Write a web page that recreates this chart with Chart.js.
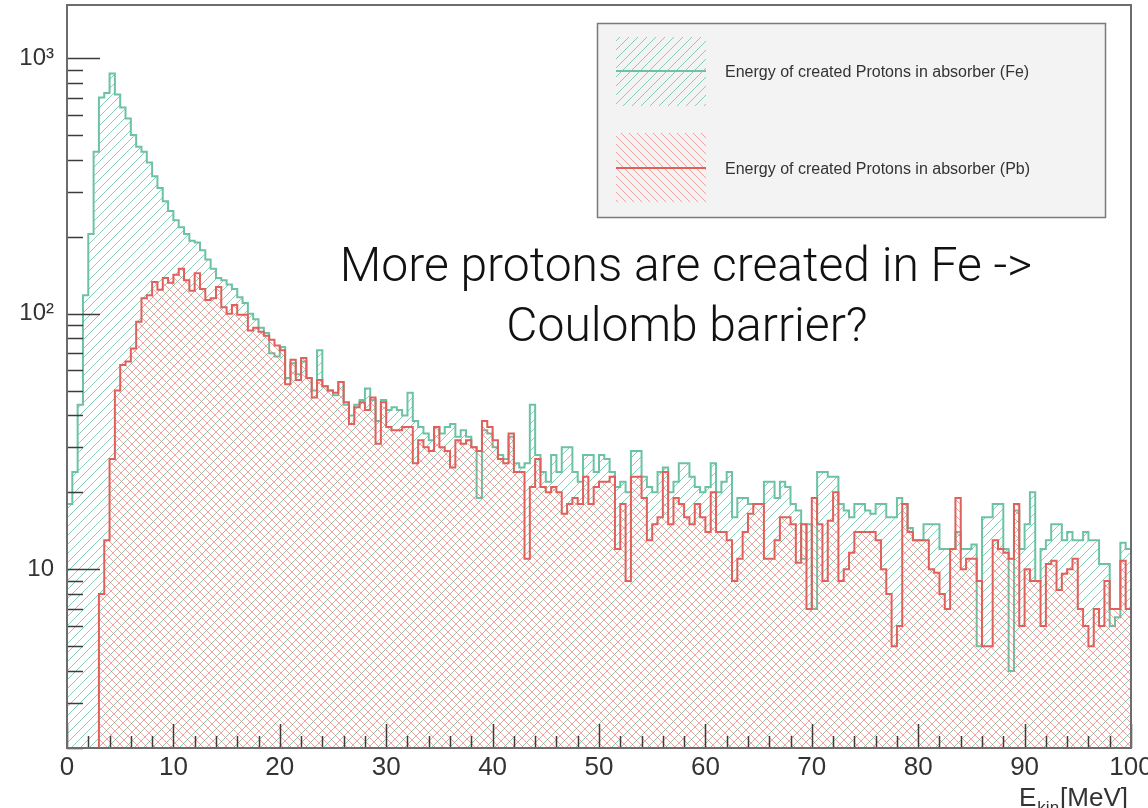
<!DOCTYPE html>
<html>
<head>
<meta charset="utf-8">
<title>Energy of created Protons</title>
<script src="https://cdn.jsdelivr.net/npm/chart.js@4.4.1/dist/chart.umd.min.js"></script>
<style>
  html, body { margin: 0; padding: 0; background: #fff; }
  #graphique { display: block; }
</style>
</head>
<body>
<canvas id="graphique" width="1148" height="808"></canvas>
<script>
// Histogramme : énergie des protons créés dans l'absorbeur, bins de 0.5 MeV
const energyRange = [0, 100];
const binWidth = 0.5;

// Comptages par bin - absorbeur Fer (Fe)
const countsFe = [
  18, 24, 44, 118, 205, 430, 700, 730, 870, 720,
  640, 580, 500, 450, 430, 390, 345, 310, 275, 252,
  232, 218, 205, 193, 190, 177, 163, 150, 138, 135,
  130, 125, 116, 110, 100, 95, 88, 84, 70, 68,
  74, 56, 64, 58, 65, 56, 50, 72, 52, 50,
  48, 54, 44, 40, 44, 46, 51, 46, 38, 46,
  42, 43, 42, 40, 49, 38, 36, 34, 32, 36,
  34, 36, 37, 33, 35, 33, 30, 19, 35, 34,
  30, 28, 27, 33, 26, 25, 26, 44, 28, 24,
  22, 28, 24, 30, 30, 24, 22, 28, 28, 24,
  28, 27, 24, 21, 22, 20, 29, 29, 23, 21,
  20, 24, 25, 20, 22, 26, 26, 23, 21, 20,
  21, 26, 20, 22, 24, 16, 19, 19, 18, 18,
  18, 22, 22, 19, 22, 21, 18, 17, 11, 15,
  7, 24, 24, 23, 23, 18, 17, 16, 18, 18,
  17, 16.5, 18, 18, 16, 16, 19, 18, 14.5, 13,
  13, 15, 15, 15, 12, 12, 12, 14, 12, 12,
  12.5, 5, 16, 16, 18, 18, 12, 4, 17, 12,
  15, 20, 9, 12, 13, 15, 15, 13, 14, 13,
  13, 14, 13, 13, 10.5, 10.5, 6, 6.5, 12.7, 12
];

// Comptages par bin - absorbeur Plomb (Pb)
const countsPb = [
  0, 0, 0, 0, 0, 0, 8, 13, 27, 50,
  63, 65, 73, 93, 115, 118, 133, 124, 138, 132,
  142, 150, 135, 123, 144, 125, 113, 115, 127, 106,
  100, 108, 99, 99, 86, 88, 85, 82, 79, 75,
  72, 53, 66, 55, 67, 56, 47, 55, 52, 50,
  49, 54, 45, 37, 43, 45, 42, 47, 31, 45,
  36, 35, 35, 36, 36, 26, 32, 30, 29, 36,
  30, 29, 25, 32, 31, 32, 30, 29, 38, 36,
  32, 27, 26, 34, 24, 24, 11, 21, 27, 21,
  20, 21, 20, 16.5, 18, 19, 18, 23, 18, 21,
  22, 22, 23, 12, 18, 9, 23, 23, 19, 13,
  15, 16, 24, 15, 19, 18, 16, 15, 18, 16,
  14, 20, 14, 14, 13, 9, 11, 14, 16.5, 18,
  18, 11, 11, 13, 16, 16, 15, 10.6, 15, 7,
  19, 15, 9, 15.5, 20, 9, 10, 11.6, 14, 14,
  14, 14, 13, 10, 8, 5, 6, 18, 14, 13,
  13, 13, 10, 9.7, 8, 7, 12, 19, 10, 11,
  11, 9, 5, 5, 13, 12, 11.6, 11, 18, 6,
  10, 9, 9, 6, 10.5, 10.8, 8.3, 9.6, 10, 11,
  7, 6, 5, 7, 6, 9, 7, 7, 10.8, 7
];

// Axes
const xTickValues = [0, 10, 20, 30, 40, 50, 60, 70, 80, 90, 100];
const xTickLabels = ['0', '10', '20', '30', '40', '50', '60', '70', '80', '90', '100'];
const yRange = [2, 1612];
const yTickValues = [10, 100, 1000];
const yTickLabels = ['10', '10²', '10³'];
const axisTitle = ['E', 'kin', '[MeV]'];

// Légende et commentaire
const legendLabels = [
  'Energy of created Protons in absorber (Fe)',
  'Energy of created Protons in absorber (Pb)'
];
const noteLines = ['More protons are created in Fe ->', 'Coulomb barrier?'];

const couleurFe = '#6cc3a4';
const couleurPb = '#e0605b';

const canvas = document.getElementById('graphique');
const ctx = canvas.getContext('2d');

// motif hachuré : sens > 0 pour "/", sens < 0 pour "\"
function hachure(couleur, sens, pas) {
  const c = document.createElement('canvas');
  c.width = pas;
  c.height = pas;
  const g = c.getContext('2d');
  g.strokeStyle = couleur;
  g.lineWidth = 1;
  g.beginPath();
  if (sens > 0) {
    g.moveTo(0, pas); g.lineTo(pas, 0);
    g.moveTo(-1, 1); g.lineTo(1, -1);
    g.moveTo(pas - 1, pas + 1); g.lineTo(pas + 1, pas - 1);
  } else {
    g.moveTo(0, 0); g.lineTo(pas, pas);
    g.moveTo(-1, pas - 1); g.lineTo(1, pas + 1);
    g.moveTo(pas - 1, -1); g.lineTo(pas + 1, 1);
  }
  g.stroke();
  return ctx.createPattern(c, 'repeat');
}

const motifFe = hachure('rgba(108,195,164,0.8)', 1, 9);
const motifPb = hachure('rgba(224,96,91,0.55)', -1, 8);

// contour en escalier de l'histogramme (bins vides posés sur le bas du cadre)
function pointsHisto(counts) {
  const bas = yRange[0];
  const pts = [{ x: energyRange[0], y: bas }];
  counts.forEach((c, i) => {
    pts.push({ x: energyRange[0] + i * binWidth, y: Math.max(c, bas) });
  });
  pts.push({ x: energyRange[1], y: Math.max(counts[counts.length - 1], bas) });
  pts.push({ x: energyRange[1], y: bas });
  return pts;
}

// ticks vers l'intérieur + cadre
const cadre = {
  id: 'cadre',
  afterDatasetsDraw(chart) {
    const { ctx: c, chartArea: a, scales: { x, y } } = chart;
    c.save();
    c.strokeStyle = '#3c3c3c';
    c.lineWidth = 1.5;
    c.beginPath();
    for (let e = energyRange[0]; e <= energyRange[1]; e += 2) {
      const px = Math.round(x.getPixelForValue(e)) + 0.5;
      const long = e % 10 === 0 ? 24 : 12;
      c.moveTo(px, a.bottom);
      c.lineTo(px, a.bottom - long);
    }
    for (let dec = 1; dec <= 1000; dec *= 10) {
      for (let m = 1; m <= 9; m++) {
        const v = m * dec;
        if (v < y.min || v > y.max) continue;
        const py = Math.round(y.getPixelForValue(v)) + 0.5;
        const long = m === 1 ? 33 : 16;
        c.moveTo(a.left, py);
        c.lineTo(a.left + long, py);
      }
    }
    c.stroke();
    c.strokeStyle = '#6c6c6c';
    c.lineWidth = 2;
    c.strokeRect(a.left, a.top, a.right - a.left, a.bottom - a.top);

    // titre de l'axe x, avec indice
    c.fillStyle = '#333';
    c.textBaseline = 'alphabetic';
    c.font = '26px "Liberation Sans", Arial, sans-serif';
    const wE = c.measureText(axisTitle[0]).width;
    const wU = c.measureText(axisTitle[2]).width;
    c.font = '17px "Liberation Sans", Arial, sans-serif';
    const wK = c.measureText(axisTitle[1]).width;
    const fin = a.right - 3;
    const debut = fin - wU - wK - wE - 2;
    c.font = '26px "Liberation Sans", Arial, sans-serif';
    c.fillText(axisTitle[0], debut, 806);
    c.fillText(axisTitle[2], fin - wU, 806);
    c.font = '17px "Liberation Sans", Arial, sans-serif';
    c.fillText(axisTitle[1], debut + wE + 1, 813);
    c.restore();
  }
};

// légende façon TLegend
const legende = {
  id: 'legende',
  afterDraw(chart) {
    const c = chart.ctx;
    c.save();
    c.fillStyle = '#f3f3f3';
    c.fillRect(597, 23, 509, 195);
    c.strokeStyle = '#7a7a7a';
    c.lineWidth = 1.5;
    c.strokeRect(597.5, 23.5, 508, 194);
    const entrees = [
      { label: legendLabels[0], couleur: couleurFe, motif: motifFe, haut: 37, ligne: 71 },
      { label: legendLabels[1], couleur: couleurPb, motif: motifPb, haut: 133, ligne: 168 }
    ];
    entrees.forEach(e => {
      c.fillStyle = e.motif;
      c.fillRect(616, e.haut, 90, 69);
      c.strokeStyle = e.couleur;
      c.lineWidth = 2;
      c.beginPath();
      c.moveTo(616, e.ligne);
      c.lineTo(706, e.ligne);
      c.stroke();
      c.fillStyle = '#333';
      c.font = '16px "Liberation Sans", Arial, sans-serif';
      c.textBaseline = 'middle';
      c.fillText(e.label, 725, e.ligne + 2);
    });
    c.restore();
  }
};

// commentaire sur le graphique
const commentaire = {
  id: 'commentaire',
  afterDraw(chart) {
    const c = chart.ctx;
    c.save();
    c.fillStyle = '#111';
    c.font = '300 48px "Helvetica Neue", Roboto, "Liberation Sans", sans-serif';
    c.textAlign = 'center';
    c.textBaseline = 'alphabetic';
    c.fillText(noteLines[0], 686, 281);
    c.fillText(noteLines[1], 687, 341);
    c.restore();
  }
};

new Chart(canvas, {
  type: 'line',
  data: {
    datasets: [
      {
        label: 'Pb',
        data: pointsHisto(countsPb),
        borderColor: couleurPb,
        backgroundColor: motifPb,
        borderWidth: 2,
        fill: 'start',
        stepped: true,
        pointRadius: 0,
        borderJoinStyle: 'miter'
      },
      {
        label: 'Fe',
        data: pointsHisto(countsFe),
        borderColor: couleurFe,
        backgroundColor: motifFe,
        borderWidth: 2,
        fill: 'start',
        stepped: true,
        pointRadius: 0,
        borderJoinStyle: 'miter'
      }
    ]
  },
  options: {
    responsive: false,
    animation: false,
    devicePixelRatio: 1,
    parsing: false,
    layout: { padding: { top: 5, right: 17, left: 0, bottom: 0 } },
    plugins: {
      legend: { display: false },
      tooltip: { enabled: false }
    },
    scales: {
      x: {
        type: 'linear',
        min: energyRange[0],
        max: energyRange[1],
        bounds: 'data',
        grid: { display: false, drawTicks: false },
        border: { display: false },
        afterBuildTicks: s => { s.ticks = xTickValues.map(v => ({ value: v })); },
        afterFit: s => { s.height = 60; s.paddingLeft = 0; s.paddingRight = 0; },
        ticks: {
          autoSkip: false,
          maxRotation: 0,
          padding: 4,
          color: '#333',
          font: { family: '"Liberation Sans", Arial, sans-serif', size: 26 },
          callback: (v, i) => xTickLabels[i]
        }
      },
      y: {
        type: 'logarithmic',
        min: yRange[0],
        max: yRange[1],
        bounds: 'data',
        grid: { display: false, drawTicks: false },
        border: { display: false },
        afterBuildTicks: s => { s.ticks = yTickValues.map(v => ({ value: v })); },
        afterFit: s => { s.width = 67; s.paddingTop = 0; s.paddingBottom = 0; },
        ticks: {
          padding: 13,
          color: '#333',
          font: { family: '"Liberation Sans", Arial, sans-serif', size: 24 },
          callback: (v, i) => yTickLabels[i]
        }
      }
    }
  },
  plugins: [cadre, legende, commentaire]
});
</script>
</body>
</html>
